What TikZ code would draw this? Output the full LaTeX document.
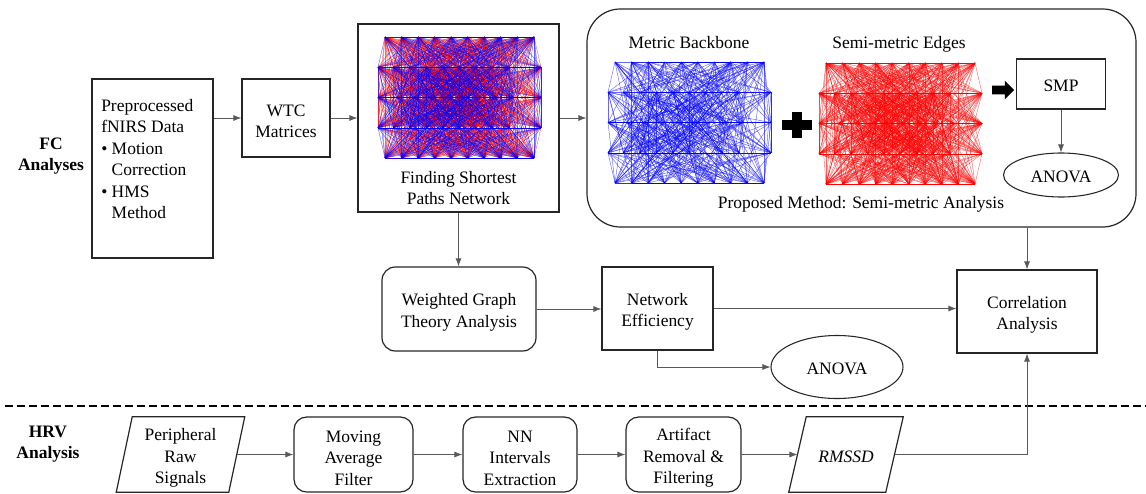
\documentclass[tikz,border=0pt]{standalone}
\usepackage{fontspec}
\setmainfont{Liberation Serif}
\newfontfamily\diagserif{Liberation Serif}
\usetikzlibrary{arrows.meta,calc,shapes.geometric,shapes.arrows}

\tikzset{
  boxsize/.style 2 args={minimum width=#1*0.75pt, minimum height=#2*0.75pt},
  txt/.style={font=\diagserif\fontsize{13.1}{16.1}\selectfont, align=center, inner sep=0pt},
  headtxt/.style={txt, font=\diagserif\fontsize{13.1}{16.1}\selectfont\bfseries},
  boxtext/.style={label={[txt, yshift=-2.6pt]center:#1}},
  captext/.style={label={[txt, yshift=-1.4pt]center:#1}},
  plainbox/.style={txt, draw=black!85, line width=0.9pt},
  roundbox/.style={plainbox, rounded corners=9.5pt},
  oval/.style={txt, ellipse, draw=black!85, line width=0.8pt},
  slantline/.style={draw=black!85, line width=0.9pt, line join=miter},
  conn/.style={draw=black!65, line width=0.6pt, -{Latex[length=6pt,width=4.5pt]}},
  separator/.style={draw=black, line width=2.2pt, dash pattern=on 6pt off 3pt},
  metric/.style={draw=blue, line width=0.33pt, draw opacity=0.6},
  semimetric/.style={draw=red, line width=0.33pt, draw opacity=0.6},
}

% channel layout of the 5x10 connectivity graph (px, relative to its top-left corner);
% inner rows are staggered, rows 1-3 have their end channels pushed out
\newcommand\netlayout{%
  \foreach \k in {0,...,49}{%
    \pgfmathtruncatemacro\netrow{int(\k/10)}%
    \pgfmathtruncatemacro\netcol{mod(\k,10)}%
    \pgfmathsetmacro\netoff{\netrow==1 || \netrow==3 ? 0.5 : (\netrow==2 ? 0.25 : 0)}%
    \pgfmathsetmacro\netxx{7+(\netcol-\netoff)*149/9}%
    \ifnum\netrow>0 \ifnum\netrow<4
      \ifnum\netcol=0 \def\netxx{0}\fi
      \ifnum\netcol=9 \def\netxx{163}\fi
    \fi\fi
    \pgfmathsetmacro\netyy{\netrow*30.25}%
    \expandafter\xdef\csname netx\k\endcsname{\netxx}%
    \expandafter\xdef\csname nety\k\endcsname{\netyy}%
  }%
}

% edges of one class: #1 = 1 metric backbone, 2 semi-metric edges
\newcommand\drawnet[1]{%
  \foreach \i in {0,...,48}{%
    \pgfmathtruncatemacro\jstart{\i+1}%
    \foreach \j in {\jstart,...,49}{%
      \pgfmathtruncatemacro\nethash{mod(\i*7+\j*11+\i*\j*3+\j*\j,23)}%
      \ifnum\nethash<9 \def\netcls{1}\else\def\netcls{2}\fi
      \ifnum#1=\netcls\relax
        \ifnum\netcls=1
          \draw[metric] (\csname netx\i\endcsname,\csname nety\i\endcsname) -- (\csname netx\j\endcsname,\csname nety\j\endcsname);
        \else
          \draw[semimetric] (\csname netx\i\endcsname,\csname nety\i\endcsname) -- (\csname netx\j\endcsname,\csname nety\j\endcsname);
        \fi
      \fi
    }%
  }%
}

\begin{document}
\begin{tikzpicture}[x=0.75pt,y=-0.75pt]
\useasboundingbox (0,0) rectangle (1146,493);
\netlayout

% ---------------- FC analyses ----------------
\node[headtxt] (fclabel) at (51,156) {FC\\Analyses};

\node[plainbox, boxsize={121}{179}] (pre) at (152.5,168.5) {};
\node[txt, align=left, anchor=north west] (pretext) at (101,99)
  {Preprocessed\\fNIRS Data\\\textbullet\ Motion\\\phantom{\textbullet\ }Correction\\\textbullet\ HMS\\\phantom{\textbullet\ }Method};

\node[plainbox, boxsize={88}{78}, boxtext={WTC\\Matrices}] (wtc) at (286,118) {};

\node[plainbox, boxsize={201}{188}] (fsp) at (458.5,118) {};
\begin{scope}[shift={(378,37)}]
  \drawnet{2}
  \drawnet{1}
\end{scope}
\node[txt] (fsptext) at (458.5,188) {Finding Shortest\\Paths Network};

% proposed semi-metric analysis
\node[plainbox, rounded corners=25pt, boxsize={549}{218}] (sem) at (861.5,118) {};
\node[txt] (mbtitle) at (689,43) {Metric Backbone};
\node[txt] (smtitle) at (899,44) {Semi-metric Edges};
\begin{scope}[shift={(608,62)}]
  \drawnet{1}
\end{scope}
\begin{scope}[shift={(819,63)}]
  \drawnet{2}
\end{scope}
\fill (782,120) rectangle (812,130);
\fill (792,112) rectangle (802,138);
\node[single arrow, fill=black, draw=none, inner sep=3pt, minimum height=16.5pt,
      single arrow head extend=3.75pt, single arrow head indent=0pt] (tosmp) at (1001,90) {};
\node[plainbox, boxsize={89}{50}, captext={SMP}] (smp) at (1061,84) {};
\node[oval, boxsize={115}{44}, captext={ANOVA}] (anovaA) at (1061,175) {};
\node[txt] (semtitle) at (861,204) {Proposed Method: Semi-metric Analysis};

\node[roundbox, rounded corners=10pt, boxsize={154}{84}, boxtext={Weighted Graph\\Theory Analysis}] (wg) at (459,309) {};
\node[plainbox, boxsize={111}{83}, boxtext={Network\\Efficiency}] (ne) at (657.5,308.5) {};
\node[plainbox, boxsize={140}{83}, boxtext={Correlation\\Analysis}] (corr) at (1027,311.5) {};
\node[oval, boxsize={132}{63}, captext={ANOVA}] (anovaB) at (837,367) {};

\draw[conn] (pre.east |- wtc.west) -- (wtc.west);
\draw[conn] (wtc) -- (fsp);
\draw[conn] (fsp) -- (sem);
\draw[conn] (smp) -- (anovaA);
\draw[conn] (fsp.south) -- (fsp.south |- wg.north);
\draw[conn] (wg.east) -- (wg.east -| ne.west);
\draw[conn] (ne.east) -- (ne.east -| corr.west);
\draw[conn] (ne.south) |- (anovaB.west);
\draw[conn] (corr.north |- sem.south) -- (corr.north);

% ---------------- separator ----------------
\coordinate (splitL) at (5,406);
\coordinate (splitR) at (1146,406);
\draw[separator] (splitL) -- (splitR);

% ---------------- HRV analysis ----------------
\node[headtxt] (hrvlabel) at (48,444) {HRV\\Analysis};

\node[boxsize={112}{75}, txt, boxtext={Peripheral\\Raw\\Signals}] (periph) at (180.5,454.5) {};
\draw[slantline] ($(periph.north west)+(8,0)$) -- ($(periph.north east)+(8,0)$)
  -- ($(periph.south east)+(-8,0)$) -- ($(periph.south west)+(-8,0)$) -- cycle;
\node[roundbox, boxsize={119}{75}, boxtext={Moving\\Average\\Filter}] (mov) at (353.5,454.5) {};
\node[roundbox, boxsize={114}{75}, boxtext={NN\\Intervals\\Extraction}] (nn) at (520,454.5) {};
\node[roundbox, boxsize={115}{75}, boxtext={Artifact\\Removal \&\\Filtering}] (art) at (683.5,454.5) {};
\node[boxsize={96.5}{75}, txt, captext={\itshape RMSSD}] (rmssd) at (846,454.5) {};
\draw[slantline] ($(rmssd.north west)+(8.75,0)$) -- ($(rmssd.north east)+(8.75,0)$)
  -- ($(rmssd.south east)+(-8.75,0)$) -- ($(rmssd.south west)+(-8.75,0)$) -- cycle;

\draw[conn] (periph) -- (mov);
\draw[conn] (mov) -- (nn);
\draw[conn] (nn) -- (art);
\draw[conn] (art) -- (rmssd);
\draw[conn] (rmssd.east) -| (corr.south);
\end{tikzpicture}
\end{document}
